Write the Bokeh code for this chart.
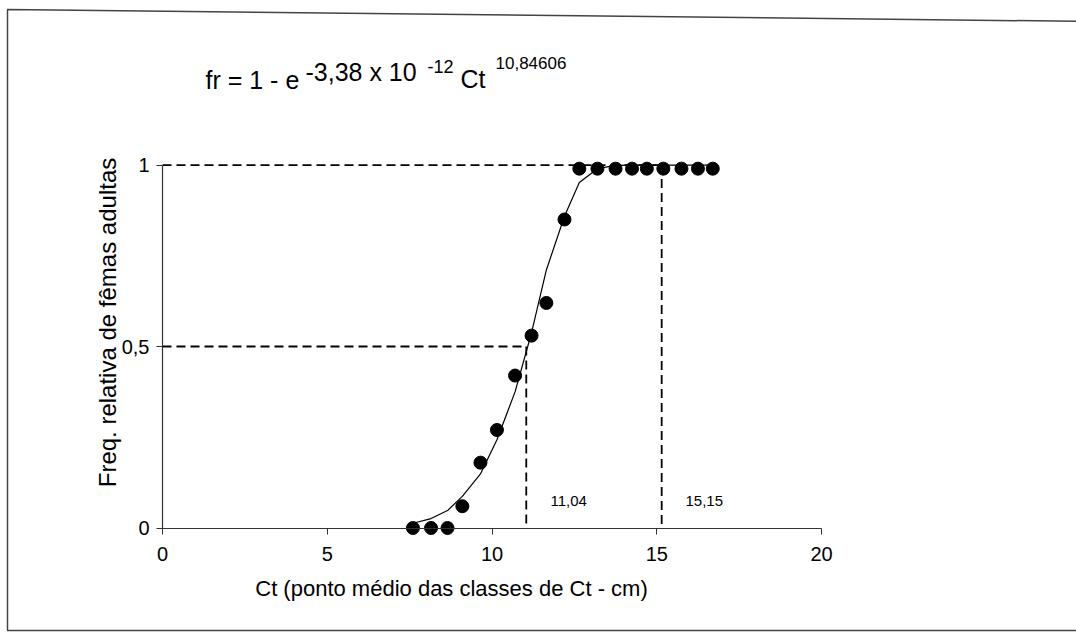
from bokeh.plotting import figure
from bokeh.models import FixedTicker, Label, PolyAnnotation
from bokeh.embed import file_html
from bokeh.resources import INLINE

# ---- data ----
ct_mid = [7.6, 8.15, 8.65, 9.1, 9.65, 10.15, 10.7, 11.2, 11.65, 12.2, 12.65,
          13.2, 13.75, 14.25, 14.7, 15.2, 15.75, 16.25, 16.7]
freq_obs = [0.0, 0.0, 0.0, 0.06, 0.18, 0.27, 0.42, 0.53, 0.62, 0.85, 0.99,
            0.99, 0.99, 0.99, 0.99, 0.99, 0.99, 0.99, 0.99]
freq_fit = [0.013, 0.026, 0.048, 0.087, 0.149, 0.243, 0.375, 0.538, 0.711, 0.859, 0.952,
            0.990, 0.999, 1.0, 1.0, 1.0, 1.0, 1.0, 1.0]
l50 = 11.04
l100 = 15.15
x_ticks = [0, 5, 10, 15, 20]
y_ticks = [0, 0.5, 1]
y_tick_labels = {0: "0", 0.5: "0,5", 1: "1"}

FONT = "Liberation Sans"

# frame covers the whole canvas; x=0 at 162 px, x=20 at 821 px; y=0 at 527.5 px, y=1 at 164.5 px
XPX = 32.95
YPX = 362.96
x_range = (-162 / XPX, (1076 - 162) / XPX)
y_range = (-(642 - 527.5) / YPX, 527.5 / YPX)

p = figure(width=1076, height=642, x_range=x_range, y_range=y_range,
           output_backend="svg", toolbar_location=None,
           min_border_left=0, min_border_right=0,
           min_border_top=0, min_border_bottom=0)
p.grid.visible = False
p.outline_line_color = None
p.background_fill_color = "white"
p.border_fill_color = "white"

# axes
p.xaxis.ticker = FixedTicker(ticks=x_ticks)
p.yaxis.ticker = FixedTicker(ticks=y_ticks)
p.yaxis.major_label_overrides = y_tick_labels
p.xaxis.fixed_location = 0
p.yaxis.fixed_location = 0
p.xaxis.bounds = (0, 20)
p.yaxis.bounds = (0, 1)
for ax in (p.xaxis, p.yaxis):
    ax.axis_line_color = "#333333"
    ax.axis_line_width = 1.2
    ax.major_tick_line_color = "#333333"
    ax.major_tick_out = 6
    ax.major_tick_in = 0
    ax.minor_tick_line_color = None
    ax.major_label_text_font = FONT
    ax.major_label_text_font_size = "20px"
    ax.major_label_text_color = "black"
p.xaxis.major_label_standoff = 13
p.yaxis.major_label_standoff = 7

# reference dashed lines
dash = "9 5"
p.line([0, l100], [1, 1], line_color="black", line_width=1.8, line_dash=dash)
p.line([l100, l100], [1, 0], line_color="black", line_width=1.8, line_dash=dash)
p.line([0, l50], [0.5, 0.5], line_color="black", line_width=1.8, line_dash=dash)
p.line([l50, l50], [0.5, 0], line_color="black", line_width=1.8, line_dash=dash)

# fitted curve and observed points
p.line(ct_mid, freq_fit, line_color="black", line_width=1.2)
p.scatter(ct_mid, freq_obs, size=13, fill_color="black", line_color="black")


def add_text(txt, px, py, size, align="left", angle=0.0, baseline="middle"):
    p.add_layout(Label(x=px, y=py, x_units="canvas", y_units="canvas", text=txt,
                       text_font=FONT, text_font_size=size, text_align=align,
                       text_baseline=baseline, angle=angle, text_color="black"))

# value labels
add_text("11,04", 550, 500, "15px")
add_text("15,15", 685, 500, "15px")

# axis titles
add_text("Ct (ponto médio das classes de Ct - cm)", 451, 588, "22px", align="center")
add_text("Freq. relativa de fêmas adultas", 107, 322, "24px",
         align="center", angle=1.5707963)

# equation
add_text("fr = 1 - e", 205, 79, "25px")
add_text("-3,38 x 10", 305, 71, "25px")
add_text("-12", 427, 66, "18px")
add_text("Ct", 460, 78, "25px")
add_text("10,84606", 495, 62, "17px")

# scanned page border
p.add_layout(PolyAnnotation(xs=[7, 7, 1095, 1095], ys=[630, 9, 21, 630],
                            xs_units="canvas", ys_units="canvas",
                            fill_alpha=0, line_color="#444444", line_alpha=1.0,
                            line_width=1.5))

open("out.html", "w").write(file_html(p, INLINE))
